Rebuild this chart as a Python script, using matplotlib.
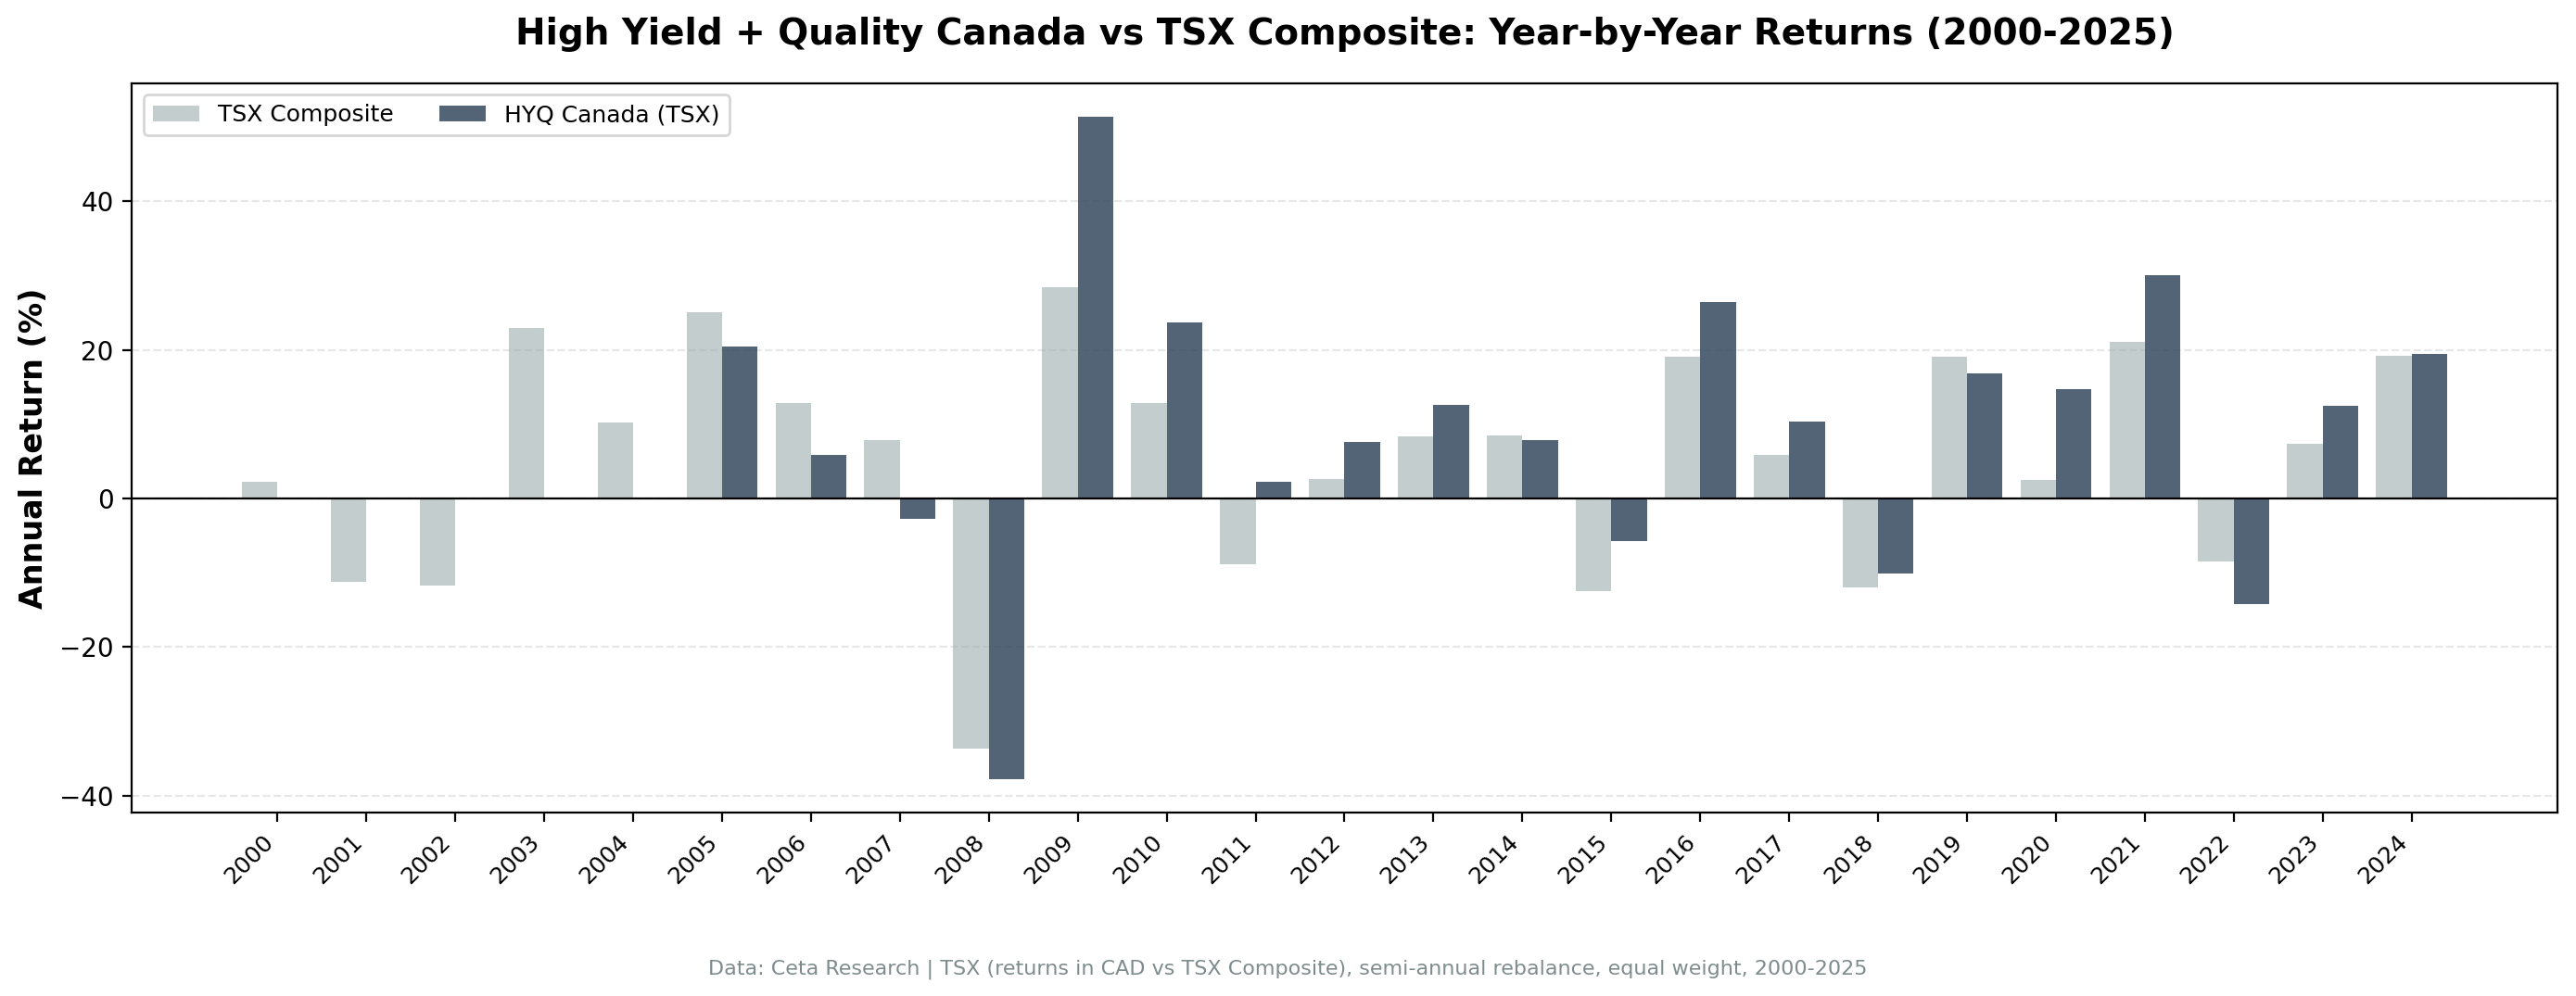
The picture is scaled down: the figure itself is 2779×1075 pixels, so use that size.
import numpy as np
import matplotlib.pyplot as plt

# Year-by-year returns (%)
years = [str(y) for y in range(2000, 2025)]
tsx_returns = [2.3, -11.2, -11.7, 23.0, 10.2, 25.1, 12.9, 7.8, -33.7, 28.4,
               12.9, -8.9, 2.6, 8.3, 8.5, -12.5, 19.1, 5.9, -12.0, 19.1,
               2.5, 21.1, -8.5, 7.4, 19.2]
hyq_returns = [np.nan, np.nan, np.nan, np.nan, np.nan, 20.5, 5.9, -2.8, -37.8, 51.4,
               23.7, 2.3, 7.6, 12.6, 7.8, -5.7, 26.4, 10.4, -10.1, 16.8,
               14.7, 30.1, -14.2, 12.5, 19.5]

fig = plt.figure(figsize=(13.895, 5.375), dpi=200)
ax = fig.add_axes([0.0511, 0.1842, 0.9417, 0.7321])

x = np.arange(len(years))
width = 0.4
ax.bar(x - width/2, tsx_returns, width, label='TSX Composite', color='#95a5a6', alpha=0.55)
ax.bar(x + width/2, hyq_returns, width, label='HYQ Canada (TSX)', color='#34495e', alpha=0.85)

ax.axhline(0, color='black', linewidth=0.8)
ax.set_xticks(x)
ax.set_xticklabels(years, rotation=45, ha='right', fontsize=9)
ax.tick_params(axis='y', labelsize=10)
ax.set_ylabel('Annual Return (%)', fontsize=12, fontweight='bold')
ax.set_title('High Yield + Quality Canada vs TSX Composite: Year-by-Year Returns (2000-2025)',
             fontsize=14, fontweight='bold', pad=15)
ax.legend(loc='upper left', ncol=2, fontsize=9)
ax.grid(axis='y', alpha=0.3, linestyle='--')
ax.set_axisbelow(True)

fig.text(0.5, 0.022, 'Data: Ceta Research | TSX (returns in CAD vs TSX Composite), semi-annual rebalance, equal weight, 2000-2025',
         ha='center', fontsize=8, color='#7f8c8d')

plt.savefig('out.png', dpi=200)
